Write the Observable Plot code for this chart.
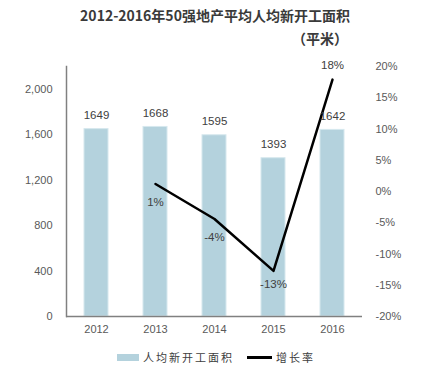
<!DOCTYPE html>
<html><head><meta charset="utf-8">
<script src="https://cdn.jsdelivr.net/npm/d3@7"></script>
<script src="https://cdn.jsdelivr.net/npm/@observablehq/plot@0.6"></script>
<style>
body{margin:0;background:#fff;width:430px;height:369px;overflow:hidden;font-family:"Liberation Sans",Arial,sans-serif}
#title{position:relative;height:50px}
#t1{position:absolute;left:0;width:430px;top:6px;text-align:center;font:bold 14px "Noto Sans CJK SC";color:#3a3a3a;line-height:18px;white-space:nowrap}
#t2{position:absolute;left:292px;top:29px;font:bold 14px "Noto Sans CJK SC";color:#3a3a3a;line-height:18px;white-space:nowrap}
#chart{height:295px}
#legend{position:relative;height:24px;font:11px "Noto Sans CJK SC";color:#404040;letter-spacing:2px}
.sw{position:absolute}
.lt{position:absolute;top:3px;line-height:18px;white-space:nowrap}
</style></head><body>
<div id="title"><div id="t1">2012-2016年50强地产平均人均新开工面积</div><div id="t2">（平米）</div></div>
<div id="chart"></div>
<div id="legend">
  <div class="sw" style="left:117px;top:9px;width:22px;height:7px;background:#b4d2dd"></div>
  <div class="lt" id="l1" style="left:143px"></div>
  <div class="sw" style="left:247px;top:11px;width:25px;height:3px;background:#000"></div>
  <div class="lt" id="l2" style="left:276px"></div>
</div>
<script>
const years = ["2012", "2013", "2014", "2015", "2016"];
const area = [1649, 1668, 1595, 1393, 1642];
const growthYears = ["2013", "2014", "2015", "2016"];
const growth = [1.2, -4.4, -12.7, 17.9];
const growthLabels = ["1%", "-4%", "-13%", "18%"];
const leftTicks = [0, 400, 800, 1200, 1600, 2000];
const rightTicks = [-20, -15, -10, -5, 0, 5, 10, 15, 20];
const seriesNames = ["人均新开工面积", "增长率"];
const areaMax = 2200, rateMin = -20, rateMax = 20;

document.getElementById("l1").textContent = seriesNames[0];
document.getElementById("l2").textContent = seriesNames[1];

const toY = r => (r - rateMin) / (rateMax - rateMin) * areaMax;
const fromY = y => Math.round(y / areaMax * (rateMax - rateMin) + rateMin);

const barData = years.map((y, i) => ({year: y, area: area[i]}));
const lineData = growthYears.map((y, i) => ({year: y, g: growth[i], label: growthLabels[i]}));

const labelStyle = {x: "year", y: d => toY(d.g), text: "label", fill: "#404040", fontSize: 11.5};

const chart = Plot.plot({
  width: 430, height: 295,
  marginLeft: 66, marginRight: 68, marginTop: 16, marginBottom: 29,
  style: {fontFamily: "Liberation Sans, Arial, sans-serif", fontSize: "11px", background: "#fff"},
  x: {domain: years, paddingInner: 0.595, paddingOuter: 0.2975},
  y: {domain: [0, areaMax]},
  marks: [
    Plot.barY(barData, {x: "year", y: "area", fill: "#b4d2dd", stroke: "#d6e8ee", strokeWidth: 1}),
    Plot.frame({anchor: "left", stroke: "#808080", strokeWidth: 1.5}),
    Plot.ruleY([0], {stroke: "#808080", strokeWidth: 1.5}),
    Plot.axisY(leftTicks, {label: null, tickSize: 0, tickPadding: 14, tickFormat: d3.format(","), fill: "#595959", fontSize: 11}),
    Plot.axisY(rightTicks.map(toY), {anchor: "right", label: null, tickSize: 0, tickPadding: 13, tickFormat: y => fromY(y) + "%", fill: "#595959", fontSize: 11}),
    Plot.axisX({label: null, tickSize: 0, tickPadding: 9, fill: "#595959", fontSize: 11}),
    Plot.lineY(lineData, {x: "year", y: d => toY(d.g), stroke: "#000", strokeWidth: 2.5}),
    Plot.text(barData, {x: "year", y: "area", text: d => String(d.area), dy: -14, fill: "#404040", fontSize: 11.5}),
    Plot.text(lineData, {...labelStyle, filter: d => d.g > 10, dy: -14}),
    Plot.text(lineData, {...labelStyle, filter: d => d.g < -10, dy: 13}),
    Plot.text(lineData, {...labelStyle, filter: d => d.g >= -10 && d.g <= 10, dy: 18})
  ]
});
document.getElementById("chart").appendChild(chart);
</script>
</body></html>
